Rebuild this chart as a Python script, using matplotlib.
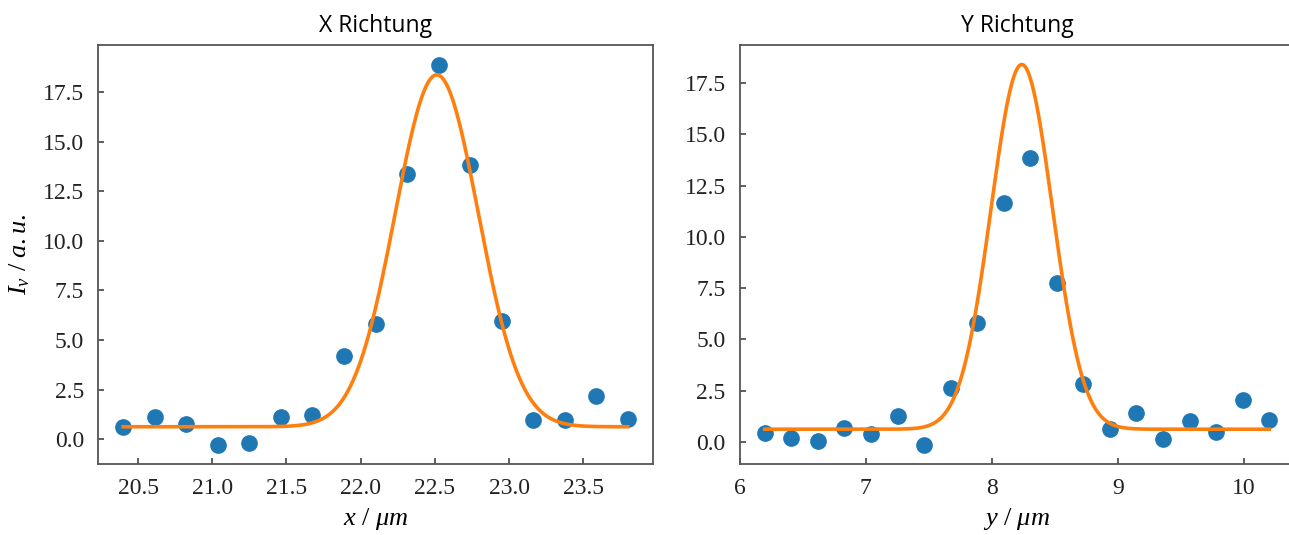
import numpy as np
import matplotlib
matplotlib.use("Agg")
import matplotlib.pyplot as plt
from matplotlib.ticker import MultipleLocator

# --- Messdaten ---
x_pos = np.linspace(20.4, 23.8, 17)
x_int = [0.62, 1.11, 0.74, -0.30, -0.20, 1.11, 1.23, 4.19, 5.83, 13.40,
         18.91, 13.84, 5.95, 0.96, 0.96, 2.19, 0.99]

y_pos = np.linspace(6.2, 10.2, 20)
y_int = [0.45, 0.19, 0.02, 0.70, 0.39, 1.25, -0.15, 2.64, 5.82, 11.63,
         13.84, 7.75, 2.81, 0.63, 1.43, 0.13, 1.04, 0.49, 2.06, 1.07]

# Gauss-Fit Parameter: Amplitude, Mittelwert, Sigma, Offset
x_fit = (17.77, 22.513, 0.28, 0.62)
y_fit = (17.79, 8.238, 0.243, 0.62)


def gauss(t, a, mu, sigma, c):
    return a * np.exp(-(t - mu) ** 2 / (2 * sigma ** 2)) + c


plt.rcParams.update({
    "font.family": "Liberation Serif",
    "font.size": 17,
    "mathtext.fontset": "custom",
    "mathtext.rm": "Liberation Serif",
    "mathtext.it": "Liberation Serif:italic",
    "axes.edgecolor": "#555555",
    "axes.linewidth": 1.3,
})

fig = plt.figure(figsize=(12.89, 5.35), dpi=100)
ax1 = fig.add_axes([98 / 1289, 71 / 535, 555 / 1289, 418.5 / 535])
ax2 = fig.add_axes([739.5 / 1289, 71 / 535, 555 / 1289, 418.5 / 535])

panels = [
    (ax1, x_pos, x_int, x_fit, "X Richtung", r"$x\ /\ \mu m$", 0.5),
    (ax2, y_pos, y_int, y_fit, "Y Richtung", r"$y\ /\ \mu m$", 1.0),
]

for ax, pos, inten, fit, title, xlabel, xstep in panels:
    ax.plot(pos, inten, "o", color="#1f77b4", markersize=11, zorder=2)
    t = np.linspace(pos[0], pos[-1], 500)
    ax.plot(t, gauss(t, *fit), color="#ff7f0e", linewidth=2.6, zorder=3)
    ax.set_title(title, family="Open Sans", fontsize=16.5, pad=10)
    ax.set_xlabel(xlabel, fontsize=19, labelpad=5)
    ax.xaxis.set_major_locator(MultipleLocator(xstep))
    ax.yaxis.set_major_locator(MultipleLocator(2.5))
    ax.tick_params(direction="in", length=4, width=1.1, color="#333333",
                   labelsize=17, pad=10, labelcolor="#222222")

ax1.xaxis.set_major_formatter(lambda v, _: f"{v:.1f}")
ax1.yaxis.set_major_formatter(lambda v, _: f"{v:.1f}")
ax2.yaxis.set_major_formatter(lambda v, _: f"{v:.1f}")
ax2.xaxis.set_major_formatter(lambda v, _: f"{v:.0f}")

ax1.set_ylabel(r"$I_v\ /\ a.u.$", fontsize=19, labelpad=8)

fig.savefig("out.png", dpi=100)
